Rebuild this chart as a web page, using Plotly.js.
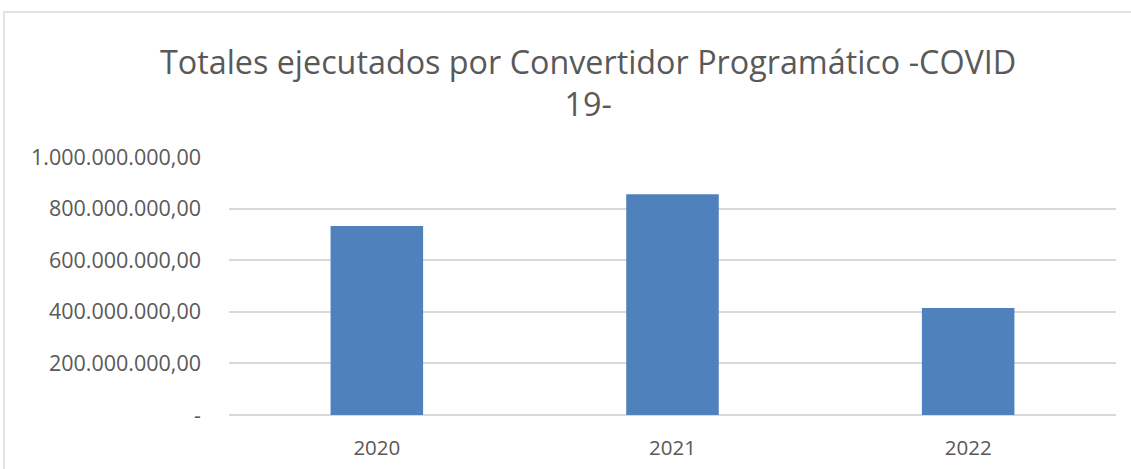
<!DOCTYPE html>
<html>
<head>
<meta charset="utf-8">
<script src="https://cdn.plot.ly/plotly-3.0.1.min.js"></script>
<style>html,body{margin:0;padding:0;background:#fff;}#chart{width:1131px;height:469px;}</style>
</head>
<body>
<div id="chart"></div>
<script>
const categories = ["2020", "2021", "2022"];
const values = [733000000, 856000000, 415000000];
const tickValues = [0, 200000000, 400000000, 600000000, 800000000, 1000000000];
const tickLabels = ["-", "200.000.000,00", "400.000.000,00", "600.000.000,00", "800.000.000,00", "1.000.000.000,00"];
const titleText = "Totales ejecutados por Convertidor Programático -COVID<br>19-";

const W = 1131, H = 469;
const m = {l: 229, r: 15, t: 157, b: 54};
const pw = W - m.l - m.r, ph = H - m.t - m.b;
// chart border in paper coords
const bx0 = (4 - m.l) / pw, bx1 = (W + 5 - m.l) / pw;
const by1 = (H - m.b - 12) / ph, by0 = -(m.b + 5) / ph;

const trace = {
  type: "bar",
  x: categories,
  y: values,
  width: 0.313,
  marker: {color: "#4F81BD", line: {color: "#4F81BD", width: 0}},
  hoverinfo: "x+y"
};

const layout = {
  width: W, height: H,
  margin: m,
  paper_bgcolor: "#fff",
  plot_bgcolor: "#fff",
  showlegend: false,
  font: {family: "Open Sans, sans-serif", color: "#595959"},
  title: {
    text: titleText,
    font: {family: "Open Sans, sans-serif", size: 32.3, color: "#595959"},
    xref: "container", x: 0.52, xanchor: "center",
    yref: "container", y: 0.843, yanchor: "top"
  },
  xaxis: {
    type: "category",
    showgrid: false,
    showline: false,
    zeroline: false,
    ticks: "",
    tickfont: {size: 20.5, color: "#595959"},
    ticklabelstandoff: 18
  },
  yaxis: {
    range: [0, 1000000000],
    tickmode: "array",
    tickvals: tickValues,
    ticktext: tickLabels,
    showgrid: true,
    gridcolor: "#D9D9D9",
    gridwidth: 2,
    zeroline: true,
    zerolinecolor: "#D9D9D9",
    zerolinewidth: 2,
    showline: false,
    ticks: "",
    tickfont: {size: 21.5, color: "#595959"},
    ticklabelstandoff: 27
  },
  shapes: [{
    type: "rect", xref: "paper", yref: "paper",
    x0: bx0, x1: bx1, y0: by0, y1: by1,
    line: {color: "#D9D9D9", width: 1.5},
    fillcolor: "rgba(0,0,0,0)",
    layer: "below"
  }]
};

Plotly.newPlot("chart", [trace], layout, {displayModeBar: false, staticPlot: true});
</script>
</body>
</html>
